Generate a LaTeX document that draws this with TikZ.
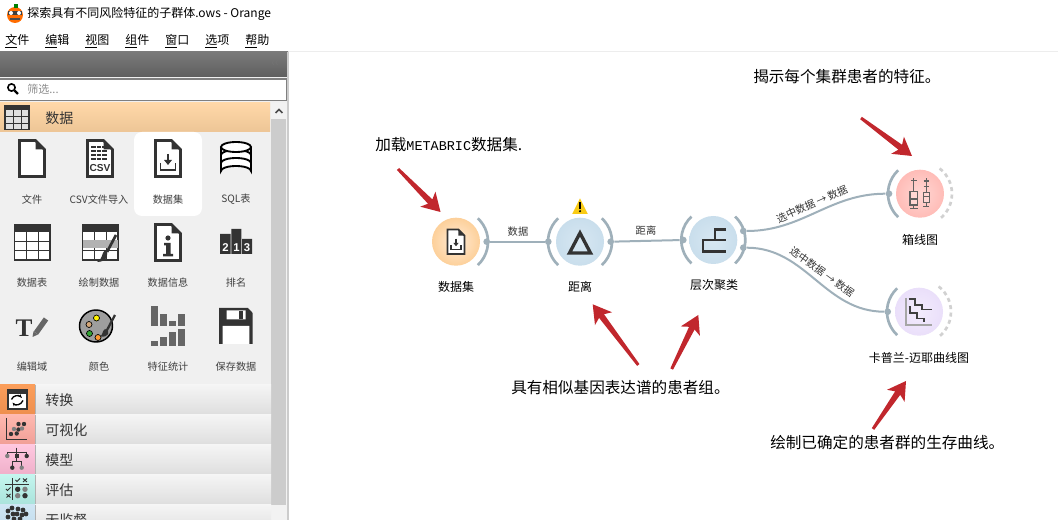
\documentclass[tikz,border=0pt]{standalone}
\usepackage{fontspec}
\usepackage{xcolor}
\usetikzlibrary{arrows.meta,calc}
\setmainfont{Noto Sans CJK SC}
\newfontfamily\latinmono{Liberation Mono}
\newfontfamily\latinsans{Liberation Sans}
\newfontfamily\latinserif{Liberation Serif}

\definecolor{icondark}{HTML}{333333}
\definecolor{linkgray}{HTML}{9FB0BA}
\definecolor{notered}{HTML}{C1272D}

% page with folded corner, x y scale
\newcommand{\docpage}[3]{
	\draw[icondark, line width=1.9pt*#3, line join=miter, fill=white] (#1,#2) -- ++(0,36*#3) -- ++(25*#3,0) -- ++(0,-27*#3) -- ++(-9*#3,-9*#3) -- cycle;
	\fill[icondark] (#1+16*#3,#2) -- ++(9*#3,9*#3) -- ++(-9*#3,0) -- cycle;
}
% download mark inside a page
\newcommand{\downmark}[3]{
	\draw[icondark, line width=1.4pt*#3] (#1-7.5*#3,#2+2*#3) -- ++(0,7*#3) -- ++(15*#3,0) -- ++(0,-7*#3);
	\draw[icondark, line width=1.6pt*#3] (#1,#2-7*#3) -- ++(0,7*#3);
	\fill[icondark] (#1-4*#3,#2-1*#3) -- ++(8*#3,0) -- ++(-4*#3,5*#3) -- cycle;
}
% table grid, x y size and colour of the cells
\newcommand{\gridicon}[4]{
	\fill[#4] (#1,#2) rectangle ++(#3,#3);
	\fill[icondark] (#1,#2) rectangle ++(#3,#3*0.2);
	\draw[icondark, line width=1.4pt] (#1,#2) rectangle ++(#3,#3);
	\foreach \k in {1,2} {
		\draw[icondark, line width=.7pt] (#1+#3*\k/3,#2) -- ++(0,#3);
		\draw[icondark, line width=.7pt] (#1,#2+#3*0.2+#3*0.8*\k/3) -- ++(#3,0);
	}
}
% red pointer from a tail coordinate to a tip coordinate
\newcommand{\redpointer}[3]{
	\fill[#3] ($(#1)!1.1pt!90:(#2)$) -- ($(#2)!11pt!(#1)!2.3pt!-90:(#1)$) -- ($(#2)!13.5pt!(#1)!8pt!-90:(#1)$) -- (#2) -- ($(#2)!13.5pt!(#1)!8pt!90:(#1)$) -- ($(#2)!11pt!(#1)!2.3pt!90:(#1)$) -- ($(#1)!1.1pt!-90:(#2)$) -- cycle;
}

\begin{document}
\begin{tikzpicture}[x=0.75pt, y=-0.75pt]
	\tikzstyle{sidelab}=[font=\fontsize{7.6}{9}\selectfont, text=black!75, inner sep=0pt]
	\tikzstyle{catlab}=[font=\fontsize{10.5}{12}\selectfont, text=black!80, anchor=west, inner sep=0pt]
	\tikzstyle{menulab}=[font=\fontsize{9}{11}\selectfont, anchor=west, inner sep=0pt]
	\tikzstyle{wnode}=[circle, minimum size=36pt, inner sep=0pt, shading=radial]
	\tikzstyle{wlab}=[font=\fontsize{9}{11}\selectfont, inner sep=0pt]
	\tikzstyle{dot}=[circle, fill=linkgray, minimum size=5pt, inner sep=0pt]
	\tikzstyle{channel}=[draw=linkgray, line width=2pt]
	\tikzstyle{outchan}=[draw=black!18, line width=2pt, dash pattern=on 3pt off 2.6pt]
	\tikzstyle{link}=[draw=linkgray, line width=1.5pt]
	\tikzstyle{linklab}=[font=\fontsize{7.7}{9}\selectfont, text=black!80, inner sep=0pt]
	\tikzstyle{note}=[font=\fontsize{11.7}{14}\selectfont, anchor=west, inner sep=0pt]
	\tikzstyle{boxline}=[draw=black!62, line width=.8pt]

	\clip (0,0) rectangle (1058,520);
	\fill[white] (0,0) rectangle (1058,520);

	% title and menu
	\fill[orange!85!red] (15,15) circle (8);
	\fill[green!50!black] (14,4) rectangle (18,8);
	\fill[black!75] (8,11) rectangle (22,15);
	\fill[white] (11,13) circle (2) (19,13) circle (2);
	\draw[black!70, line width=1pt] (10,19) -- (20,19);
	\draw node[menulab] at (27,14) (title) {探索具有不同风险特征的子群体.ows - Orange};
	\foreach \i/\px/\fc/\sc in {1/5/文/件,2/45/编/辑,3/85/视/图,4/125/组/件,5/165/窗/口,6/205/选/项,7/245/帮/助}
		\draw node[menulab] at (\px,41) (menu\i) {\underline{\fc}\sc};
	\draw[black!7, line width=.75pt] (288,51.5) -- (1058,51.5);

	% side panel
	\fill[black!6] (0,52) rectangle (288,520);
	\shade[top color=black!52, bottom color=black!63] (0,52) rectangle (288,77);
	\draw node[text=black!55, font=\fontsize{9}{9}\selectfont, inner sep=0pt] at (275,64) (fold) {‹‹};
	\draw[black!50, fill=white, line width=1pt] (-2,79) rectangle (286.5,100.5);
	\draw[black, line width=1.2pt] (11.5,87.5) circle (3.6);
	\draw[black, line width=1.6pt] (14.5,90.5) -- (18,94);
	\draw node[anchor=west, inner sep=0pt, text=black!45, font=\fontsize{8.3}{10}\selectfont] at (27,89.5) (filter) {筛选...};
	\fill[black!20] (287.3,52) rectangle (289,520);
	\fill[black!5] (271,103) rectangle (287,520);
	\fill[black!20] (271,119) rectangle (286,505);
	\draw[black!70, line width=1.2pt] (275.5,113) -- (279,109.5) -- (282.5,113);

	% category headers
	\definecolor{headtop}{HTML}{FFD8A8}
	\definecolor{headbot}{HTML}{EDC596}
	\shade[top color=headtop, bottom color=headbot] (0,103) rectangle (270,132);
	\gridicon{5}{105.5}{24}{black!12}
	\draw node[catlab] at (45,118) (catdata) {数据};
	\fill[black!35] (0,384) rectangle (271,385.5);
	\foreach \i/\py/\ctop/\cbot/\txt in {1/385/FB9E5A/EE8F4E/转换,2/415/FFB9B0/F09E96/可视化,3/445/FFC8E0/EFAFC9/模型,4/475/C4F5EE/A9E3DB/评估,5/505/CFE6F4/BFD9EA/无监督} {
		\definecolor{ctop}{HTML}{\ctop}
		\definecolor{cbot}{HTML}{\cbot}
		\shade[top color=black!4, bottom color=black!13] (35,\py) rectangle (271,\py+30);
		\shade[top color=ctop, bottom color=cbot] (0,\py) rectangle (35,\py+30);
		\draw[black!30, line width=.5pt] (35,\py) -- ++(0,30);
		\draw node[catlab] at (45,\py+15) (cat\i) {\txt};
	}
	% category icons
	\draw[icondark, fill=white, line width=1pt] (8,390) rectangle (27,409);
	\fill[icondark] (8,390) rectangle (27,394);
	\draw[black, line width=1pt, -{Stealth[length=3pt]}] (11.5,399.5) .. controls (13,395) and (19,395) .. (22,398);
	\draw[black, line width=1pt, -{Stealth[length=3pt]}] (23,400.5) .. controls (21,405.5) and (15,405.5) .. (12.5,402.5);
	\draw[icondark, line width=.7pt] (6.5,418) -- (6.5,439.3) -- (27,439.3);
	\foreach \ax/\ay/\ac in {11/434/icondark,16.7/433.5/icondark,14/429/gray,18.5/429.5/icondark,22/428.5/gray,18.5/424/icondark,24/424/icondark}
		\fill[\ac] (\ax,\ay) circle (2.2);
	\draw[icondark, line width=.7pt] (7.3,452) -- (26.7,452) (16.7,447.7) -- (16.7,461.7) (7.3,452) -- (7.3,456) (26.7,452) -- (26.7,456) (12.3,467) -- (12.3,461.7) -- (21.7,461.7) -- (21.7,467);
	\fill[icondark] (14.7,454) rectangle (18.7,458);
	\foreach \ax/\ay/\ac in {7.3/456/gray,26.7/456/icondark,12.3/467.7/icondark,21.7/467.7/gray}
		\fill[\ac] (\ax,\ay) circle (2.2);
	\draw[icondark, line width=.7pt] (5,484) -- (29,484) (12.3,478) -- (12.3,500);
	\draw[icondark, line width=.7pt] (15.5,480) -- (17,481.5) -- (20,478.5) (6,489) -- (7.5,490.5) -- (10.5,487.5);
	\draw[icondark, line width=.7pt] (23,478.5) -- (27,482) (23,482) -- (27,478.5) (6.5,494) -- (10.5,497.5) (6.5,497.5) -- (10.5,494);
	\foreach \ax/\ay/\ac in {17.7/489.3/icondark,25/489.3/gray,17.7/495.7/gray,25/495.7/icondark}
		\fill[\ac] (\ax,\ay) circle (2.7);
	\foreach \ax/\ay in {8/511,13/514,18/509,23/510,12/508,17/514,22/515,8/517,26/514,14/519,20/519}
		\fill[icondark] (\ax,\ay) circle (2.4);

	% widget tiles
	\fill[white, rounded corners=6pt] (134,132) rectangle (202,216);
	\foreach \i/\px/\py/\txt in {1/32/199.5/文件,2/99/199.5/CSV文件导入,3/168/199.5/数据集,4/236/199.5/SQL表,5/32/283/数据表,6/99/283/绘制数据,7/168/283/数据信息,8/236/283/排名,9/32/367/编辑域,10/99/367/颜色,11/168/367/特征统计,12/236/367/保存数据}
		\draw node[sidelab] at (\px,\py) (tile\i) {\txt};

	\docpage{19.5}{140.5}{1}
	\docpage{87.5}{140.5}{1}
	\foreach \k in {147,151,155,159} \draw[icondark, line width=1.2pt, dash pattern=on 3.5pt off .8pt] (91,\k) -- (108,\k);
	\draw node[inner sep=0pt, font=\latinsans\bfseries\fontsize{7.6}{8}\selectfont, text=icondark] at (100,168.5) (csvmark) {CSV};
	\docpage{155.5}{140.5}{1}
	\downmark{168}{161}{1}
	\draw[black, line width=1.4pt, fill=white] (221,147) -- (221,171) arc (180:360:15 and 5) -- (251,147);
	\draw[black, line width=1.4pt] (221,155) arc (180:360:15 and 5) (221,163) arc (180:360:15 and 5);
	\draw[black, line width=1.4pt, fill=white] (236,147) ellipse (15 and 5);

	\gridicon{14.5}{224.5}{35.5}{white}
	\gridicon{82.5}{224.5}{35.5}{white}
	\fill[black!30] (83,240) rectangle (117.5,248);
	\draw[icondark, line width=2pt] (116,235) -- (107,252);
	\fill[icondark] (105,250) .. controls (110,254) and (107,262) .. (97,262) .. controls (103,259) and (101,254) .. (105,250);
	\docpage{155.5}{224.5}{1}
	\fill[icondark] (168,238) circle (2.6);
	\fill[icondark] (164,243) -- (170.5,243) -- (170.5,254) -- (173,254) -- (173,256.5) -- (163,256.5) -- (163,254) -- (166,254) -- (166,245.5) -- (164,245.5) -- cycle;
	\fill[icondark] (220,234) rectangle (230.7,254) (231.3,229) rectangle (241.3,254) (242,239) rectangle (252,254);
	\foreach \i/\px/\txt in {1/225.5/2,2/236.4/1,3/247/3}
		\draw node[inner sep=0pt, text=white, font=\latinsans\bfseries\fontsize{8.5}{8.5}\selectfont] at (\px,247.5) (rank\i) {\txt};

	\draw node[inner sep=0pt, text=icondark, font=\latinserif\bfseries\fontsize{19}{19}\selectfont] at (24,328) (tmark) {T};
	\draw[black!60, line width=4pt] (46,319) -- (36,333);
	\fill[black!60] (33.5,331.5) -- (38,334.5) -- (32.5,337) -- cycle;
	\draw[black, line width=1.1pt, fill=black!38] (96,326) ellipse (16.5 and 16);
	\fill[yellow, draw=black, line width=.5pt] (96.5,318) circle (3);
	\fill[brown!70!white, draw=black, line width=.5pt] (89,324.5) circle (3);
	\fill[green!55!black!80, draw=black, line width=.5pt] (89.5,333.5) circle (3);
	\fill[orange!80!white, draw=black, line width=.5pt] (98,337.5) circle (3);
	\draw[icondark, line width=1.7pt] (115,315) -- (106,332);
	\fill[icondark] (105,329) .. controls (111,331) and (109,338) .. (100,336.5) .. controls (103,335) and (102,331) .. (105,329);
	\foreach \bx/\bt/\bb in {151/306/326,160/314/326,169/321/326,178/314/326,151/340.7/345.7,160/336.7/345.7,169/332/345.7,178/329/345.7}
		\fill[black!60] (\bx,\bt) rectangle ++(7,\bb-\bt);
	\fill[icondark] (219,308) -- (248,308) -- (252.7,313) -- (252.7,344) -- (219,344) -- cycle;
	\fill[white] (226.7,310.5) rectangle (245.7,319.3) (222.7,326) rectangle (249.3,344);
	\fill[icondark] (239,311) rectangle (243.3,319);

	% canvas widgets
	\definecolor{dataout}{HTML}{FDD09A}
	\definecolor{datain}{HTML}{FFEBD6}
	\definecolor{blueout}{HTML}{C9DEEC}
	\definecolor{bluein}{HTML}{D7E7F2}
	\definecolor{redout}{HTML}{FFBCB7}
	\definecolor{redin}{HTML}{FFD6D3}
	\definecolor{violetout}{HTML}{EADFFA}
	\definecolor{violetin}{HTML}{F3ECFD}
	\draw node[wnode, inner color=datain, outer color=dataout] at (456,241.7) (data) {};
	\draw node[wnode, inner color=bluein, outer color=blueout] at (580,241.7) (dist) {};
	\draw node[wnode, inner color=bluein, outer color=blueout] at (713.3,240) (clust) {};
	\draw node[wnode, inner color=redin, outer color=redout] at (920,193.7) (box) {};
	\draw node[wnode, inner color=violetin, outer color=violetout] at (919,311.7) (km) {};

	\draw node[wlab] at (456,287) (datalab) {数据集};
	\draw node[wlab] at (580,287) (distlab) {距离};
	\draw node[wlab] at (714,285) (clustlab) {层次聚类};
	\draw node[wlab] at (920,239.5) (boxlab) {箱线图};
	\draw node[wlab] at (919,357.5) (kmlab) {卡普兰-迈耶曲线图};

	% channels
	\draw[channel] (data.center) ++(-47:32) arc (-47:47:32);
	\draw[channel] (dist.center) ++(133:32) arc (133:227:32);
	\draw[channel] (dist.center) ++(-47:32) arc (-47:47:32);
	\draw[channel] (clust.center) ++(133:32) arc (133:227:32);
	\draw[channel] (clust.center) ++(-47:32) arc (-47:47:32);
	\draw[channel] (box.center) ++(133:32) arc (133:227:32);
	\draw[channel] (km.center) ++(133:32) arc (133:227:32);
	\draw[outchan] (box.center) ++(-52:32) arc (-52:52:32);
	\draw[outchan] (km.center) ++(-52:32) arc (-52:52:32);

	\draw node[dot] at (486.7,241.7) (dataout) {};
	\draw node[dot] at (548.3,241.7) (distin) {};
	\draw node[dot] at (610.7,241.7) (distout) {};
	\draw node[dot] at (683.3,240) (clustin) {};
	\draw node[dot] at (743.3,231) (clustouta) {};
	\draw node[dot] at (743.3,247.7) (clustoutb) {};
	\draw node[dot] at (889,193.7) (boxin) {};
	\draw node[dot] at (887.7,311.7) (kmin) {};

	\draw[link] (dataout) -- (distin);
	\draw[link] (distout) -- (clustin);
	\draw[link] (clustouta) to[out=0, in=180] (boxin);
	\draw[link] (clustoutb) to[out=0, in=180] (kmin);

	\draw node[linklab] at (518,231.5) (linka) {数据};
	\draw node[linklab] at (646,231) (linkb) {距离};
	\draw node[linklab, rotate=24] at (812,204) (linkc) {选中数据 → 数据};
	\draw node[linklab, rotate=-36] at (822,272) (linkd) {选中数据 → 数据};

	% icons on the canvas
	\docpage{447.5}{229.5}{.68}
	\downmark{456}{243.5}{.68}
	\draw[icondark, line width=2.5pt, line join=miter] (580,233) -- (590.5,253) -- (569.5,253) -- cycle;
	\draw[icondark, line width=1.8pt] (726,229.5) -- (715,229.5) -- (715,240) -- (726,240) (715,240) -- (703,240) -- (703,251.5) -- (726,251.5);
	\definecolor{warnfill}{HTML}{F9CB15}
	\fill[warnfill] (580,198.3) -- (587.8,214) -- (572.2,214) -- cycle;
	\fill[black] (579,202.5) rectangle (581,209);
	\fill[black] (580,211.2) circle (1.2);

	\draw[boxline] (913.8,178.5) -- (913.8,208.3) (911,180.7) -- (916.6,180.7) (910,208.3) -- (917.6,208.3) (910,199) -- (917.6,199);
	\draw[boxline, fill=redin] (910,191.7) rectangle (917.6,205);
	\draw[boxline] (910,199) -- (917.6,199);
	\draw[boxline] (926.3,178.5) -- (926.3,206.7) (923.5,181) -- (929,181) (923.5,186.7) -- (929,186.7) (923.3,206.7) -- (929.3,206.7);
	\draw[boxline, fill=redin] (923.3,192.7) rectangle (929.3,202.7);
	\draw[boxline] (923.3,196.7) -- (929.3,196.7);

	\draw[black!35, line width=1pt] (906,298) -- (906,325) -- (932,325);
	\draw[black!75, line width=1.1pt] (908.5,299) -- (915,299) -- (915,305) -- (922,305) -- (922,309.5) -- (932,309.5);
	\draw[black!75, line width=1.1pt] (908.5,307) -- (910,307) -- (910,313) -- (917,313) -- (917,318.5) -- (924,318.5) -- (924,322);

	% notes
	\draw node[note] at (753,77) (notea) {揭示每个集群患者的特征。};
	\draw node[note] at (375,145) (noteb) {加载{\latinmono\fontsize{10.1}{14}\selectfont METABRIC}数据集.};
	\draw node[note] at (511,388) (notec) {具有相似基因表达谱的患者组。};
	\draw node[note] at (770,443) (noted) {绘制已确定的患者群的生存曲线。};

	\coordinate (tipa) at (912,156);
	\coordinate (taila) at (861,118);
	\coordinate (tipb) at (440.5,212);
	\coordinate (tailb) at (398,169);
	\coordinate (tipc) at (592.7,304.3);
	\coordinate (tailc) at (638.3,365);
	\coordinate (tipd) at (698.3,315);
	\coordinate (taild) at (671.7,369);
	\coordinate (tipe) at (906,381);
	\coordinate (taile) at (873,429);
	\foreach \a in {a,b,c,d,e} {
		\redpointer{tail\a}{tip\a}{notered}
	}
\end{tikzpicture}
\end{document}
